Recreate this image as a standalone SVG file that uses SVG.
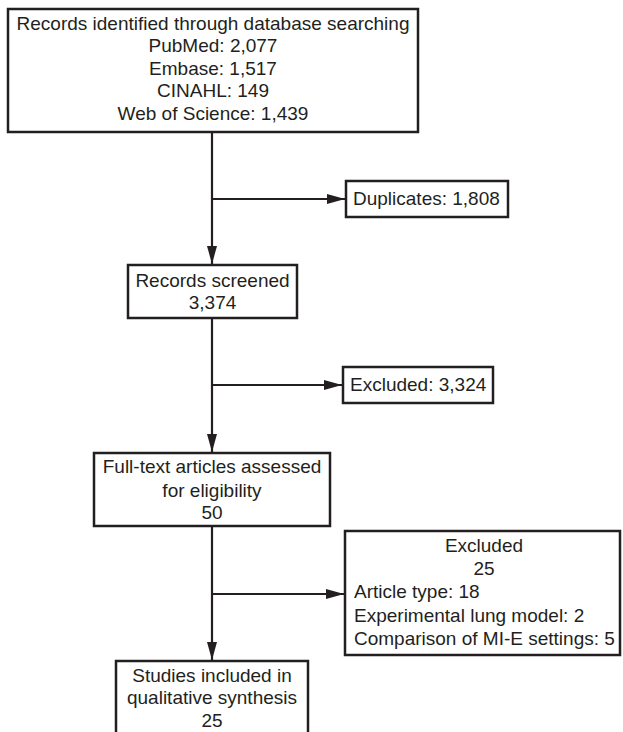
<svg xmlns="http://www.w3.org/2000/svg" width="623" height="732" viewBox="0 0 623 732">
<style>
.box{fill:#fff;stroke:#231f20;stroke-width:2.5}
.ln{fill:none;stroke:#231f20;stroke-width:2.2}
text{font-family:"Liberation Sans",Arial,sans-serif;font-size:19px;fill:#231f20}
.c{text-anchor:middle}
</style>
<defs>
<marker id="ah" markerUnits="userSpaceOnUse" markerWidth="18" markerHeight="10" refX="18" refY="5" orient="auto">
<path d="M0,0 L18,5 L0,10 Z" fill="#231f20"/>
</marker>
</defs>
<rect width="623" height="732" fill="#fff"/>
<g id="connectors">
<path class="ln" d="M212,132 V264" marker-end="url(#ah)"/>
<path class="ln" d="M212,199 H345" marker-end="url(#ah)"/>
<path class="ln" d="M212,318 V452" marker-end="url(#ah)"/>
<path class="ln" d="M212,385 H342" marker-end="url(#ah)"/>
<path class="ln" d="M212,526 V660" marker-end="url(#ah)"/>
<path class="ln" d="M212,594 H344" marker-end="url(#ah)"/>
</g>
<g id="identified">
<rect class="box" x="8" y="9" width="410" height="123"/>
<text class="c" x="213" y="29.5">Records identified through database searching</text>
<text class="c" x="213" y="52">PubMed: 2,077</text>
<text class="c" x="213" y="74.5">Embase: 1,517</text>
<text class="c" x="213" y="97">CINAHL: 149</text>
<text class="c" x="213" y="119.5">Web of Science: 1,439</text>
</g>
<g id="duplicates">
<rect class="box" x="346" y="181" width="162" height="36"/>
<text x="353" y="205">Duplicates: 1,808</text>
</g>
<g id="screened">
<rect class="box" x="128" y="265" width="169" height="53"/>
<text class="c" x="212.5" y="287">Records screened</text>
<text class="c" x="212.5" y="309">3,374</text>
</g>
<g id="excluded1">
<rect class="box" x="343" y="367" width="150" height="36"/>
<text x="350" y="391">Excluded: 3,324</text>
</g>
<g id="fulltext">
<rect class="box" x="94" y="453" width="236" height="73"/>
<text class="c" x="212" y="473">Full-text articles assessed</text>
<text class="c" x="212" y="497">for eligibility</text>
<text class="c" x="212" y="519">50</text>
</g>
<g id="excluded2">
<rect class="box" x="345" y="531" width="275" height="124"/>
<text class="c" x="484" y="552">Excluded</text>
<text class="c" x="484" y="575">25</text>
<text x="354" y="598">Article type: 18</text>
<text x="354" y="622">Experimental lung model: 2</text>
<text x="354" y="645">Comparison of MI-E settings: 5</text>
</g>
<g id="included">
<rect class="box" x="116" y="661" width="192" height="90"/>
<text class="c" x="212" y="682">Studies included in</text>
<text class="c" x="212" y="704">qualitative synthesis</text>
<text class="c" x="212" y="727">25</text>
</g>
</svg>
